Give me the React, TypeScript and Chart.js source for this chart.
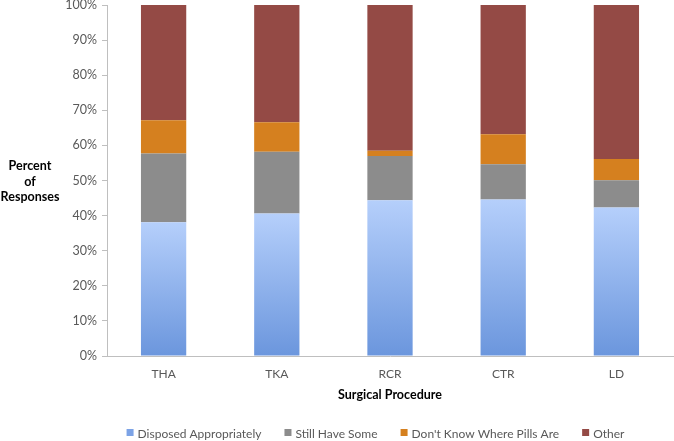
import React, { useEffect, useRef } from 'react';
import { Chart, registerables } from 'chart.js';

Chart.register(...registerables);

const categories = ['THA', 'TKA', 'RCR', 'CTR', 'LD'];
const disposedAppropriately = [38.1, 40.6, 44.4, 44.6, 42.3];
const stillHaveSome = [19.6, 17.6, 12.6, 10.0, 7.8];
const dontKnowWherePills = [9.5, 8.4, 1.5, 8.6, 6.0];
const other = [32.8, 33.4, 41.5, 36.8, 43.9];
const seriesLabels = ['Disposed Appropriately', 'Still Have Some', "Don't Know Where Pills Are", 'Other'];
const yAxisTitle = ['Percent', 'of', 'Responses'];
const xAxisTitle = 'Surgical Procedure';

const FONT = 'Lato, "Open Sans", sans-serif';
const TICK_COLOR = '#595959';
const AXIS_COLOR = '#bfbfbf';
const SOLID = ['#7ca3e6', '#8c8c8c', '#d5801f', '#944a45'];

const titlesAndLegend = {
  id: 'titlesAndLegend',
  afterDraw(chart: any) {
    const ctx = chart.ctx;
    const area = chart.chartArea;
    ctx.save();
    ctx.fillStyle = '#000000';
    ctx.font = `bold 12.5px ${FONT}`;
    ctx.textAlign = 'center';
    ctx.textBaseline = 'middle';
    yAxisTitle.forEach((t, i) => {
      ctx.fillText(t, 30, 166 + i * 15.5);
    });
    ctx.fillText(xAxisTitle, (area.left + area.right) / 2, 395);

    // legend
    ctx.font = `12px ${FONT}`;
    ctx.textAlign = 'left';
    const box = 7;
    const gapBoxText = 4;
    const gapItems = 23;
    const widths = seriesLabels.map((l) => box + gapBoxText + ctx.measureText(l).width);
    const total = widths.reduce((a, b) => a + b, 0) + gapItems * (widths.length - 1);
    let x = 375.5 - total / 2;
    const y = 433;
    chart.data.datasets.forEach((ds: any, i: number) => {
      ctx.fillStyle = SOLID[i];
      ctx.fillRect(x, y - 4, box, box);
      ctx.fillStyle = TICK_COLOR;
      ctx.fillText(ds.label, x + box + gapBoxText, y + 1);
      x += widths[i] + gapItems;
    });
    ctx.restore();
  },
};

export default function App() {
  const ref = useRef<HTMLCanvasElement>(null);

  useEffect(() => {
    if (!ref.current) return;
    const blueGradient = (context: any) => {
      const chart = context.chart;
      const ys = chart.scales?.y;
      if (!ys || context.type !== 'data') return SOLID[0];
      const v = context.parsed?.y ?? context.raw;
      const top = ys.getPixelForValue(v);
      const bottom = ys.getPixelForValue(0);
      if (!isFinite(top) || !isFinite(bottom) || top === bottom) return SOLID[0];
      const g = chart.ctx.createLinearGradient(0, top, 0, bottom);
      g.addColorStop(0, '#b5cffb');
      g.addColorStop(1, '#6b96dd');
      return g;
    };
    const chart = new Chart(ref.current, {
      type: 'bar',
      data: {
        labels: categories,
        datasets: [
          { label: seriesLabels[0], data: disposedAppropriately, backgroundColor: blueGradient },
          { label: seriesLabels[1], data: stillHaveSome, backgroundColor: SOLID[1] },
          { label: seriesLabels[2], data: dontKnowWherePills, backgroundColor: SOLID[2] },
          { label: seriesLabels[3], data: other, backgroundColor: SOLID[3] },
        ],
      },
      options: {
        animation: false,
        responsive: false,
        maintainAspectRatio: false,
        layout: { padding: { left: 0, right: 1, top: 0, bottom: 0 } },
        datasets: { bar: { categoryPercentage: 1, barPercentage: 0.4 } },
        plugins: {
          legend: { display: false },
          tooltip: { enabled: false },
          title: { display: false },
        },
        scales: {
          x: {
            stacked: true,
            grid: { display: false, drawTicks: false },
            border: { display: true, color: AXIS_COLOR, width: 1 },
            ticks: { color: TICK_COLOR, font: { family: FONT, size: 12 }, padding: 11 },
            afterFit: (scale: any) => {
              scale.height = 85;
            },
          },
          y: {
            stacked: true,
            min: 0,
            max: 100,
            grid: { drawOnChartArea: false, drawTicks: true, tickLength: 5, color: AXIS_COLOR },
            border: { display: true, color: AXIS_COLOR, width: 1 },
            ticks: {
              stepSize: 10,
              color: TICK_COLOR,
              font: { family: FONT, size: 12.5 },
              padding: 5,
              callback: (v: any) => `${v}%`,
            },
            afterFit: (scale: any) => {
              scale.width = 107;
              scale.paddingTop = 5;
              scale.paddingBottom = 0;
            },
          },
        },
      },
      plugins: [titlesAndLegend],
    });
    return () => chart.destroy();
  }, []);

  return (
    <div style={{ position: 'fixed', left: 0, top: 0, width: 674, height: 441, background: '#ffffff' }}>
      <canvas ref={ref} width={674} height={441} style={{ width: 674, height: 441, display: 'block' }} />
    </div>
  );
}
